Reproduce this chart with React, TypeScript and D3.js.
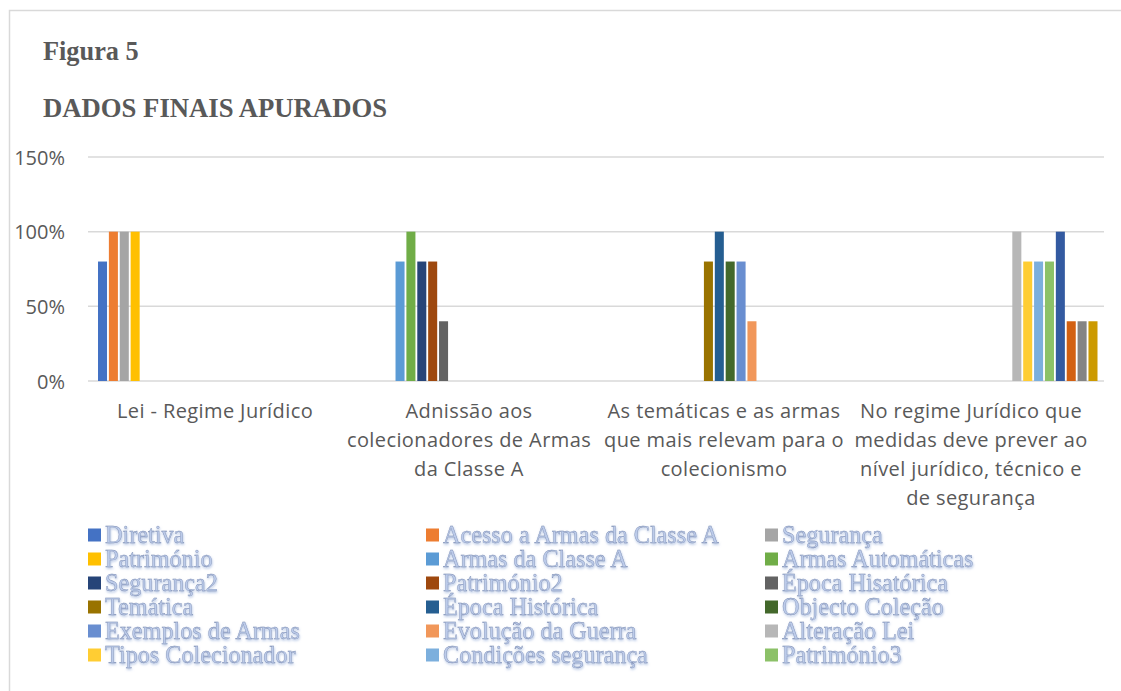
import React, { useEffect, useRef } from 'react';
import * as d3 from 'd3';

// categorias (eixo x) e as linhas em que cada rótulo é partido
const categories = [
  'Lei - Regime Jurídico',
  'Adnissão aos colecionadores de Armas da Classe A',
  'As temáticas e as armas que mais relevam para o colecionismo',
  'No regime Jurídico que medidas deve prever ao nível jurídico, técnico e de segurança',
];
const categoryLines = [
  ['Lei - Regime Jurídico'],
  ['Adnissão aos', 'colecionadores de Armas', 'da Classe A'],
  ['As temáticas e as armas', 'que mais relevam para o', 'colecionismo'],
  ['No regime Jurídico que', 'medidas deve prever ao', 'nível jurídico, técnico e', 'de segurança'],
];

const seriesNames = [
  'Diretiva', 'Acesso a Armas da Classe A', 'Segurança', 'Património',
  'Armas da Classe A', 'Armas Automáticas', 'Segurança2', 'Património2', 'Época Hisatórica',
  'Temática', 'Época Histórica', 'Objecto Coleção', 'Exemplos de Armas', 'Evolução da Guerra',
  'Alteração Lei', 'Tipos Colecionador', 'Condições segurança', 'Património3',
  'Série 19', 'Série 20', 'Série 21', 'Série 22',
];
const seriesColors = [
  '#4472C4', '#ED7D31', '#A5A5A5', '#FFC000',
  '#5B9BD5', '#70AD47', '#264478', '#9E480E', '#636363',
  '#997300', '#255E91', '#43682B', '#698ED0', '#F1975A',
  '#B7B7B7', '#FFCD33', '#7CAFDD', '#8CC168',
  '#335AA1', '#D26012', '#848484', '#CC9A00',
];

// valores por categoria (um por série, null = sem barra)
const leiValues = [0.8, 1, 1, 1, null, null, null, null, null, null, null, null, null, null, null, null, null, null, null, null, null, null];
const admissaoValues = [null, null, null, null, 0.8, 1, 0.8, 0.8, 0.4, null, null, null, null, null, null, null, null, null, null, null, null, null];
const tematicasValues = [null, null, null, null, null, null, null, null, null, 0.8, 1, 0.8, 0.8, 0.4, null, null, null, null, null, null, null, null];
const medidasValues = [null, null, null, null, null, null, null, null, null, null, null, null, null, null, 1, 0.8, 0.8, 0.8, 1, 0.4, 0.4, 0.4];
const allValues = [leiValues, admissaoValues, tematicasValues, medidasValues];

const yTicks = [0, 0.5, 1, 1.5];
const legendCount = 18; // o resto da legenda fica cortado na figura

function App() {
  const ref = useRef<SVGSVGElement>(null);

  useEffect(() => {
    const svg = d3.select(ref.current);
    svg.selectAll('*').remove();

    const width = 1121;
    const height = 691;
    const margin = { top: 157, left: 88, right: 17 };
    const plotBottom = 381;

    // moldura
    svg.append('path')
      .attr('d', `M9.5,${height} V10.5 H${width}`)
      .attr('fill', 'none')
      .attr('stroke', '#d9d9d9')
      .attr('stroke-width', 1.5);

    const grey = '#595959';
    svg.append('text').attr('x', 43).attr('y', 60)
      .attr('font-family', '"Liberation Serif", "Times New Roman", serif')
      .attr('font-weight', 'bold').attr('font-size', 26.3).attr('fill', grey)
      .text('Figura 5');
    svg.append('text').attr('x', 43).attr('y', 117)
      .attr('font-family', '"Liberation Serif", "Times New Roman", serif')
      .attr('font-weight', 'bold').attr('font-size', 26.7).attr('fill', grey)
      .text('DADOS FINAIS APURADOS');

    const y = d3.scaleLinear().domain([0, 1.5]).range([plotBottom, margin.top]);
    const x0 = d3.scaleBand().domain(categories).range([margin.left, width - margin.right]).padding(0);
    const x1 = d3.scaleBand().domain(seriesNames).range([10, 247.5]).paddingInner(0.17).paddingOuter(0);

    const grid = svg.append('g');
    yTicks.forEach(t => {
      grid.append('line')
        .attr('x1', margin.left).attr('x2', width - margin.right)
        .attr('y1', y(t)).attr('y2', y(t))
        .attr('stroke', '#d9d9d9').attr('stroke-width', 1.5);
      grid.append('text')
        .attr('x', 65).attr('y', y(t) + 7.5)
        .attr('text-anchor', 'end')
        .attr('font-family', '"Open Sans", sans-serif')
        .attr('font-size', 20).attr('fill', grey)
        .text(d3.format('.0%')(t));
    });

    const groups = svg.append('g').selectAll('g').data(categories).enter().append('g')
      .attr('transform', d => `translate(${x0(d)},0)`);

    groups.selectAll('rect')
      .data((d, i) => allValues[i].map((v, s) => ({ v, s })).filter(e => e.v !== null))
      .enter().append('rect')
      .attr('x', e => x1(seriesNames[e.s]))
      .attr('y', e => y(e.v))
      .attr('width', x1.bandwidth())
      .attr('height', e => y(0) - y(e.v))
      .style('fill', e => seriesColors[e.s]);

    // rótulos das categorias (o último fica um pouco à esquerda, como no Excel)
    const labelShift = [0, 0, 1, -6];
    categories.forEach((c, i) => {
      const cx = x0(c) + x0.bandwidth() / 2 + labelShift[i];
      const t = svg.append('text')
        .attr('text-anchor', 'middle')
        .attr('font-family', '"Open Sans", sans-serif')
        .attr('font-size', 20).attr('letter-spacing', 0.4).attr('fill', grey);
      categoryLines[i].forEach((line, k) => {
        t.append('tspan').attr('x', cx).attr('y', 418 + k * 29).text(line);
      });
    });

    // legenda
    const defs = svg.append('defs');
    const f = defs.append('filter').attr('id', 'sombra').attr('x', '-5%').attr('y', '-20%').attr('width', '110%').attr('height', '150%');
    f.append('feDropShadow').attr('dx', 0.5).attr('dy', 1.5).attr('stdDeviation', 0.8)
      .attr('flood-color', '#9fb4dd').attr('flood-opacity', 0.8);

    const colX = [88, 426, 765];
    const legend = svg.append('g');
    seriesNames.slice(0, legendCount).forEach((name, i) => {
      const col = i % 3;
      const row = Math.floor(i / 3);
      const cy = 535 + row * 24;
      legend.append('rect')
        .attr('x', colX[col]).attr('y', cy - 6.5)
        .attr('width', 13).attr('height', 13)
        .style('fill', seriesColors[i]);
      legend.append('text')
        .attr('x', colX[col] + 17).attr('y', cy + 7.5)
        .attr('font-family', '"Liberation Serif", "Times New Roman", serif')
        .attr('font-size', 24.2)
        .attr('fill', '#bccbea')
        .attr('stroke', '#7888ad')
        .attr('stroke-width', 0.35)
        .attr('filter', 'url(#sombra)')
        .text(name);
    });
  }, []);

  return (
    <svg ref={ref} width={1121} height={691}
      style={{ position: 'absolute', left: 0, top: 0, background: '#fff' }} />
  );
}

export default App;
